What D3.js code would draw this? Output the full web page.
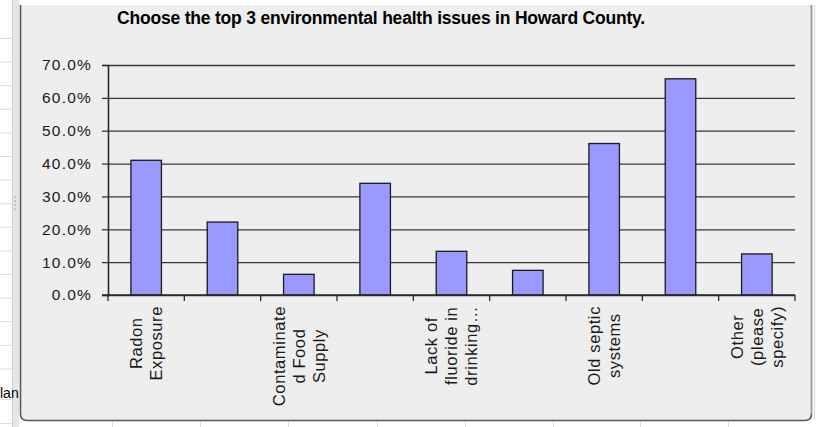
<!DOCTYPE html>
<html><head><meta charset="utf-8">
<script src="https://cdn.jsdelivr.net/npm/d3@7"></script>
<style>
html,body{margin:0;padding:0;background:#fff;}
svg{display:block;font-family:"Liberation Sans",Arial,sans-serif;}
</style></head>
<body>
<svg id="chart" width="817" height="427"></svg>
<script>
// ---- data ----
const title = "Choose the top 3 environmental health issues in Howard County.";
const categories = [
  ["Radon", "Exposure"],
  [],
  ["Contaminate", "d Food", "Supply"],
  [],
  ["Lack of", "fluoride in", "drinking…"],
  [],
  ["Old septic", "systems"],
  [],
  ["Other", "(please", "specify)"]
];
const values = [41.0, 22.2, 6.3, 34.0, 13.3, 7.5, 46.1, 65.8, 12.5];
const yTicks = [0, 10, 20, 30, 40, 50, 60, 70];

// ---- layout ----
const svg = d3.select("#chart");
const W = 817, H = 427;
const plot = {left: 108, right: 795, top: 65, bottom: 295};

// spreadsheet backdrop
svg.append("rect").attr("width", W).attr("height", H).attr("fill", "#ffffff");
const rowLines = d3.range(0, 15).map(k => 38 + k * 23.6).concat([399, 423]);
svg.selectAll("line.row").data(rowLines).join("line")
  .attr("x1", 0).attr("x2", 14).attr("y1", d => d + 0.5).attr("y2", d => d + 0.5)
  .attr("stroke", "#dcdcdc");
svg.append("rect").attr("x", 12).attr("y", 0).attr("width", 7).attr("height", H).attr("fill", "#e6e6e6");
svg.append("line").attr("x1", 12.5).attr("x2", 12.5).attr("y1", 0).attr("y2", H).attr("stroke", "#d0d0d0");
svg.append("text").attr("x", 0).attr("y", 398).attr("font-size", 14).attr("fill", "#000").text("lan");
const colLines = [112, 200, 288, 377, 465, 553, 640, 728];
svg.selectAll("line.col").data(colLines).join("line")
  .attr("x1", d => d + 0.5).attr("x2", d => d + 0.5).attr("y1", 421).attr("y2", H)
  .attr("stroke", "#dcdcdc");

// chart frame
svg.append("path")
  .attr("d", "M20.5,5 L20.5,414 Q20.5,420.5 27,420.5 L805,420.5 Q811.5,420.5 811.5,414 L811.5,5 Z")
  .attr("fill", "#eeeeee").attr("stroke", "none");
svg.append("path")
  .attr("d", "M20.5,5 L20.5,414 Q20.5,420.5 27,420.5 L805,420.5 Q811.5,420.5 811.5,414")
  .attr("fill", "none").attr("stroke", "#5a5a5a").attr("stroke-width", 1.6);
svg.append("line").attr("x1", 811.5).attr("x2", 811.5).attr("y1", 5).attr("y2", 414)
  .attr("stroke", "#a0a0a0").attr("stroke-width", 2);
svg.append("line").attr("x1", 814.5).attr("x2", 814.5).attr("y1", 5).attr("y2", 420)
  .attr("stroke", "#d8d8d8").attr("stroke-width", 1);
// grip dots
svg.selectAll("circle.grip").data([197, 201, 205, 209]).join("circle")
  .attr("cx", 15).attr("cy", d => d).attr("r", 0.8).attr("fill", "#9a9a9a");

// scales
const x = d3.scaleBand().domain(d3.range(categories.length))
  .range([plot.left, plot.right]).paddingInner(0.6).paddingOuter(0.3);
const y = d3.scaleLinear().domain([0, 70]).range([plot.bottom, plot.top]);
const step = x.step();
const boundary = i => plot.left + i * step;

// gridlines
svg.append("g").attr("transform", `translate(${plot.left},0)`)
  .call(d3.axisLeft(y).tickValues(yTicks).tickSize(-(plot.right - plot.left)).tickFormat(""))
  .call(g => g.select(".domain").remove())
  .call(g => g.selectAll("line").attr("stroke", "#383838").attr("stroke-width", 1.3));

// bars
svg.selectAll("rect.bar").data(values).join("rect")
  .attr("class", "bar")
  .attr("x", (d, i) => x(i))
  .attr("width", x.bandwidth())
  .attr("y", d => y(d))
  .attr("height", d => y(0) - y(d))
  .attr("fill", "#9999ff")
  .attr("stroke", "#1a1a1a").attr("stroke-width", 1.3);

// y axis
const yAxis = svg.append("g").attr("transform", `translate(${plot.left},0)`)
  .call(d3.axisLeft(y).tickValues(yTicks).tickSize(6).tickPadding(10)
    .tickFormat(d => d.toFixed(1) + "%"));
yAxis.select(".domain").attr("stroke", "#2a2a2a").attr("stroke-width", 1.6);
yAxis.selectAll(".tick line").attr("stroke", "#2a2a2a").attr("stroke-width", 1.2);
yAxis.selectAll(".tick text").attr("font-size", 15.5).attr("fill", "#1a1a1a")
  .attr("font-family", "Liberation Sans, Arial, sans-serif")
  .style("letter-spacing", "1.2px");

// x axis line + boundary ticks
const xAxis = svg.append("g").attr("transform", `translate(0,${plot.bottom})`)
  .call(d3.axisBottom(x).tickSize(0).tickFormat(""));
xAxis.select(".domain").attr("d", `M${plot.left - 6},0H${plot.right}`)
  .attr("stroke", "#2a2a2a").attr("stroke-width", 1.6);
xAxis.selectAll("line.btick").data(d3.range(categories.length + 1)).join("line")
  .attr("class", "btick")
  .attr("x1", i => boundary(i)).attr("x2", i => boundary(i))
  .attr("y1", 0).attr("y2", 6)
  .attr("stroke", "#2a2a2a").attr("stroke-width", 1.3);

// category labels (rotated, multi-line)
const lineGap = 20;
const labelTop = 306;
categories.forEach((lines, i) => {
  if (!lines.length) return;
  const cx = x(i) + x.bandwidth() / 2;
  const g = svg.append("g").attr("transform", `translate(${cx},${labelTop}) rotate(-90)`);
  const texts = lines.map((t, j) => g.append("text")
    .attr("font-size", 16.5).attr("fill", "#1a1a1a")
    .style("letter-spacing", "0.6px")
    .attr("text-anchor", "middle")
    .attr("dy", "0.35em")
    .attr("y", (j - (lines.length - 1) / 2) * lineGap)
    .text(t));
  const maxW = d3.max(texts, t => t.node().getComputedTextLength());
  texts.forEach(t => t.attr("x", -maxW / 2));
});

// title
const tt = svg.append("text").attr("x", 117).attr("y", 24)
  .attr("font-size", 17.5).attr("font-weight", "bold").attr("fill", "#000")
  .text(title);
const natural = tt.node().getComputedTextLength();
tt.style("letter-spacing", ((528 - natural) / title.length) + "px");
</script>
</body></html>
